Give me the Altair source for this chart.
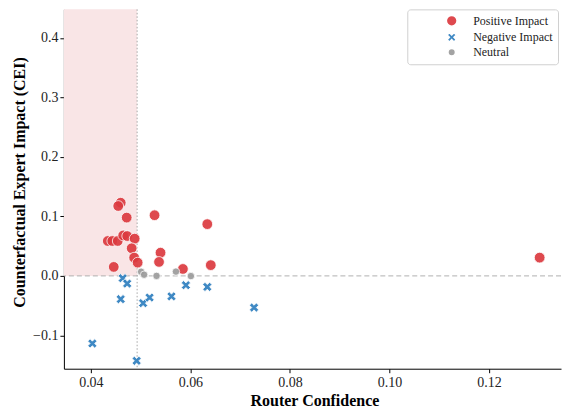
import altair as alt
import pandas as pd

# ---- data ----
categories = ["Positive Impact", "Negative Impact", "Neutral"]

pos_x = [0.0460, 0.0455, 0.0472, 0.0528, 0.0634, 0.0434, 0.0443, 0.0454, 0.0465, 0.0473,
         0.0488, 0.0482, 0.0487, 0.0494, 0.0540, 0.0537, 0.0446, 0.0585, 0.0641, 0.1302]
pos_y = [0.1230, 0.1175, 0.0980, 0.1020, 0.0870, 0.0587, 0.0587, 0.0587, 0.0680, 0.0670,
         0.0626, 0.0465, 0.0307, 0.0223, 0.0390, 0.0235, 0.0151, 0.0117, 0.0181, 0.0307]

neg_x = [0.0464, 0.0473, 0.0460, 0.0505, 0.0518, 0.0562, 0.0591, 0.0634, 0.0728, 0.0403, 0.0492]
neg_y = [-0.0039, -0.0129, -0.0391, -0.0458, -0.0364, -0.0344, -0.0156, -0.0185, -0.0532,
         -0.1136, -0.1427]

neu_x = [0.0501, 0.0507, 0.0532, 0.0571, 0.0601]
neu_y = [0.0070, 0.0020, 0.0000, 0.0072, -0.0003]

threshold = 0.0493
x_domain = [0.03458, 0.13449]
y_domain = [-0.156, 0.448]
x_ticks = [0.04, 0.06, 0.08, 0.10, 0.12]
y_ticks = [-0.1, 0.0, 0.1, 0.2, 0.3, 0.4]

rows = []
for xs_, ys_, cat in [(pos_x, pos_y, categories[0]), (neg_x, neg_y, categories[1]),
                      (neu_x, neu_y, categories[2])]:
    for a, b in zip(xs_, ys_):
        rows.append({"conf": a, "cei": b, "impact": cat})
df = pd.DataFrame(rows)

X_PATH = ("M-1,-0.5L-0.5,-1L0,-0.5L0.5,-1L1,-0.5L0.5,0L1,0.5L0.5,1"
          "L0,0.5L-0.5,1L-1,0.5L-0.5,0Z")

xs = alt.Scale(domain=x_domain, nice=False, zero=False)
ys = alt.Scale(domain=y_domain, nice=False, zero=False)
x_axis = alt.Axis(title="Router Confidence", values=x_ticks, format=".2f", titleX=251)
y_axis = alt.Axis(title="Counterfactual Expert Impact (CEI)", values=y_ticks, format=".1f",
                  labelExpr="replace(datum.label, '-', '\u2212')", titleY=173)

shade_df = pd.DataFrame({"conf": [x_domain[0]], "conf2": [threshold],
                         "cei": [0.0], "cei2": [y_domain[1]]})
shade = alt.Chart(shade_df).mark_rect(color="#f9e5e6").encode(
    x=alt.X("conf:Q", scale=xs, axis=x_axis), x2="conf2:Q",
    y=alt.Y("cei:Q", scale=ys, axis=y_axis), y2="cei2:Q")

vline = alt.Chart(pd.DataFrame({"conf": [threshold]})).mark_rule(
    color="#a8a8a8", strokeDash=[1.5, 2], strokeWidth=1).encode(
    x=alt.X("conf:Q", scale=xs, axis=x_axis))

hline = alt.Chart(pd.DataFrame({"cei": [0.0]})).mark_rule(
    color="#b0b0b0", strokeDash=[5, 3], strokeWidth=1).encode(
    y=alt.Y("cei:Q", scale=ys, axis=y_axis))

leg = alt.Legend(title=None, orient="none", legendX=344, legendY=0, symbolOffset=33)
points = alt.Chart(df).mark_point(filled=True, opacity=0.92, stroke="white",
                                  strokeWidth=0.8).encode(
    x=alt.X("conf:Q", scale=xs, axis=x_axis),
    y=alt.Y("cei:Q", scale=ys, axis=y_axis),
    color=alt.Color("impact:N", scale=alt.Scale(domain=categories,
                    range=["#dc3a3f", "#2f7fbf", "#9c9c9c"]), legend=leg),
    shape=alt.Shape("impact:N", scale=alt.Scale(domain=categories,
                    range=["circle", X_PATH, "circle"]), legend=leg),
    size=alt.Size("impact:N", scale=alt.Scale(domain=categories,
                  range=[115, 56, 16]), legend=leg),
)

chart = alt.layer(shade, vline, hline, points).properties(
    width=498, height=360,
    padding={"left": 3, "top": 0, "right": 0, "bottom": 5},
).configure_axis(
    labelFont="Liberation Serif", labelFontSize=14, labelColor="#222222",
    titleFont="Liberation Serif", titleFontSize=16, titleFontWeight="bold",
    titleColor="black", domainColor="black", tickColor="black", grid=False,
    tickSize=4, labelPadding=3, titlePadding=3, domainWidth=1,
).configure_axisY(titlePadding=5, labelPadding=2).configure_view(
    stroke="transparent").configure_legend(
    labelFont="Liberation Serif", labelFontSize=12, labelColor="#222222",
    strokeColor="#d0d0d0", fillColor="white", padding=5, cornerRadius=3,
    labelOffset=15, rowPadding=0,
)

chart.save("out.html", embed_options={"renderer": "svg", "actions": False})
